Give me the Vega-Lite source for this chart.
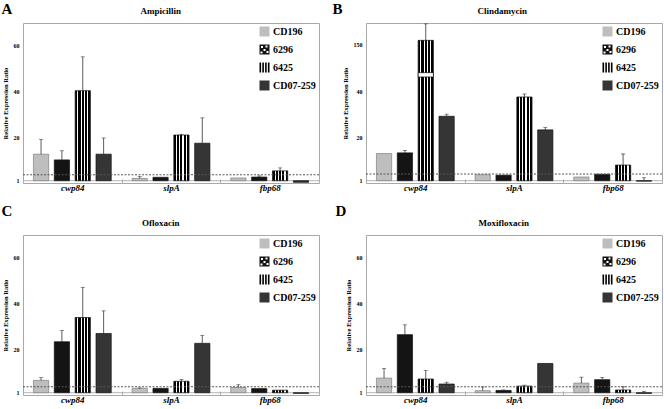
{
  "$schema": "https://vega.github.io/schema/vega-lite/v6.json",
  "background": "white",
  "padding": {"left": 1, "top": 1, "right": 2, "bottom": 2},
  "datasets": {
    "all": [
      {"p": "A", "g": "cwp84", "s": "CD196", "v": 12.6, "e": 19.1},
      {"p": "A", "g": "cwp84", "s": "6296", "v": 10.1, "e": 14.1},
      {"p": "A", "g": "cwp84", "s": "6425", "v": 40.4, "e": 55.2},
      {"p": "A", "g": "cwp84", "s": "CD07-259", "v": 12.6, "e": 19.7},
      {"p": "A", "g": "slpA", "s": "CD196", "v": 2.0, "e": 2.8},
      {"p": "A", "g": "slpA", "s": "6296", "v": 2.5, "e": 2.5},
      {"p": "A", "g": "slpA", "s": "6425", "v": 21.0, "e": 21.3},
      {"p": "A", "g": "slpA", "s": "CD07-259", "v": 17.4, "e": 28.5},
      {"p": "A", "g": "fbp68", "s": "CD196", "v": 2.2, "e": 2.2},
      {"p": "A", "g": "fbp68", "s": "6296", "v": 2.6, "e": 3.1},
      {"p": "A", "g": "fbp68", "s": "6425", "v": 5.3, "e": 6.6},
      {"p": "A", "g": "fbp68", "s": "CD07-259", "v": 0.3, "e": 0.3},
      {"p": "B", "g": "cwp84", "s": "CD196", "v": 12.8, "e": 12.8},
      {"p": "B", "g": "cwp84", "s": "6296", "v": 13.1, "e": 14.1},
      {"p": "B", "g": "cwp84", "s": "6425", "v": 160, "e": 198},
      {"p": "B", "g": "cwp84", "s": "CD07-259", "v": 29.0, "e": 29.9},
      {"p": "B", "g": "slpA", "s": "CD196", "v": 3.6, "e": 3.6},
      {"p": "B", "g": "slpA", "s": "6296", "v": 3.4, "e": 3.4},
      {"p": "B", "g": "slpA", "s": "6425", "v": 37.4, "e": 38.7},
      {"p": "B", "g": "slpA", "s": "CD07-259", "v": 23.1, "e": 24.2},
      {"p": "B", "g": "fbp68", "s": "CD196", "v": 2.6, "e": 2.6},
      {"p": "B", "g": "fbp68", "s": "6296", "v": 3.8, "e": 3.8},
      {"p": "B", "g": "fbp68", "s": "6425", "v": 7.8, "e": 12.6},
      {"p": "B", "g": "fbp68", "s": "CD07-259", "v": 0.8, "e": 2.3},
      {"p": "C", "g": "cwp84", "s": "CD196", "v": 6.4, "e": 7.6},
      {"p": "C", "g": "cwp84", "s": "6296", "v": 23.3, "e": 28.2},
      {"p": "C", "g": "cwp84", "s": "6425", "v": 33.9, "e": 47.1},
      {"p": "C", "g": "cwp84", "s": "CD07-259", "v": 26.9, "e": 36.8},
      {"p": "C", "g": "slpA", "s": "CD196", "v": 2.9, "e": 3.1},
      {"p": "C", "g": "slpA", "s": "6296", "v": 2.9, "e": 2.9},
      {"p": "C", "g": "slpA", "s": "6425", "v": 6.0, "e": 6.8},
      {"p": "C", "g": "slpA", "s": "CD07-259", "v": 22.6, "e": 26.1},
      {"p": "C", "g": "fbp68", "s": "CD196", "v": 3.3, "e": 4.5},
      {"p": "C", "g": "fbp68", "s": "6296", "v": 2.8, "e": 2.8},
      {"p": "C", "g": "fbp68", "s": "6425", "v": 2.1, "e": 2.1},
      {"p": "C", "g": "fbp68", "s": "CD07-259", "v": 0.7, "e": 0.7},
      {"p": "D", "g": "cwp84", "s": "CD196", "v": 7.4, "e": 11.6},
      {"p": "D", "g": "cwp84", "s": "6296", "v": 26.4, "e": 30.7},
      {"p": "D", "g": "cwp84", "s": "6425", "v": 7.0, "e": 10.7},
      {"p": "D", "g": "cwp84", "s": "CD07-259", "v": 4.8, "e": 5.6},
      {"p": "D", "g": "slpA", "s": "CD196", "v": 1.9, "e": 3.5},
      {"p": "D", "g": "slpA", "s": "6296", "v": 2.0, "e": 2.2},
      {"p": "D", "g": "slpA", "s": "6425", "v": 3.9, "e": 4.3},
      {"p": "D", "g": "slpA", "s": "CD07-259", "v": 13.8, "e": 13.8},
      {"p": "D", "g": "fbp68", "s": "CD196", "v": 5.2, "e": 7.8},
      {"p": "D", "g": "fbp68", "s": "6296", "v": 6.7, "e": 7.7},
      {"p": "D", "g": "fbp68", "s": "6425", "v": 2.2, "e": 3.6},
      {"p": "D", "g": "fbp68", "s": "CD07-259", "v": 0.7, "e": 1.5}
    ]
  },
  "config": {
    "font": "Liberation Serif",
    "view": {"stroke": "#a8a8a8"},
    "title": {"font": "Liberation Serif", "fontWeight": "bold", "color": "black"},
    "axis": {"labelFont": "Liberation Serif", "titleFont": "Liberation Serif", "labelColor": "black", "titleColor": "black", "labelFontWeight": "bold", "titleFontWeight": "bold", "grid": false, "domain": false, "labelOverlap": false},
    "axisY": {"labelFontSize": 6, "titleFontSize": 6.5, "ticks": false, "labelPadding": 4, "titlePadding": 5},
    "axisX": {"labelFontSize": 9, "labelFontStyle": "italic", "labelAngle": 0, "tickBand": "extent", "tickSize": -4, "tickColor": "#b0b0b0", "labelPadding": 4},
    "legend": {"orient": "top-right", "offset": 3, "padding": 0, "symbolType": "square", "symbolSize": 100, "labelFont": "Liberation Serif", "labelFontWeight": "bold", "labelFontSize": 10, "labelColor": "black", "rowPadding": 5, "labelOffset": 3, "symbolStrokeWidth": 0.6, "symbolStrokeColor": "#222222", "symbolFillColor": "#bebebe", "symbolOpacity": 1}
  },
  "resolve": {"scale": {"fill": "independent", "shape": "independent"}, "legend": {"fill": "independent", "shape": "independent"}},
  "columns": 2,
  "spacing": {"row": 10, "column": 12},
  "concat": [
    {
      "title": {"text": "A", "anchor": "start", "frame": "bounds", "fontSize": 15, "offset": -10},
      "resolve": {"scale": {"fill": "independent", "shape": "independent"}, "legend": {"fill": "independent", "shape": "independent"}},
      "vconcat": [{
        "title": {"text": "Ampicillin", "fontSize": 9, "anchor": "middle", "frame": "bounds", "offset": 7},
        "width": 296, "height": 160,
        "data": {"name": "all"},
        "layer": [
          {"mark": {"type": "rule", "color": "#a0a0a0", "strokeWidth": 0.8}, "data": {"values": [{}]}, "encoding": {"y": {"datum": 1}}},
          {"transform": [{"filter": "datum.p === 'A'"}],
           "mark": {"type": "bar", "strokeWidth": 0.7},
           "encoding": {
             "x": {"field": "g", "type": "nominal", "sort": ["cwp84", "slpA", "fbp68"], "scale": {"paddingInner": 0, "paddingOuter": 0}, "axis": {"title": null}},
             "xOffset": {"field": "s", "type": "nominal", "sort": ["CD196", "6296", "6425", "CD07-259"], "scale": {"paddingInner": 0.27, "paddingOuter": 0.5}},
             "y": {"field": "v", "type": "quantitative", "scale": {"domain": [0, 70], "nice": false, "zero": false}, "axis": {"title": "Relative Expression Ratio", "values": [1, 10, 20, 30, 40, 50, 60, 70], "labelOverlap": false}},
             "y2": {"datum": 1},
             "fill": {"condition": {"test": "datum.s === '6425'", "value": {"gradient": "linear", "x1": 0, "y1": 0, "x2": 1, "y2": 0, "stops": [{"offset": 0, "color": "#000"}, {"offset": 0.14, "color": "#000"}, {"offset": 0.14, "color": "#fff"}, {"offset": 0.215, "color": "#fff"}, {"offset": 0.215, "color": "#000"}, {"offset": 0.355, "color": "#000"}, {"offset": 0.355, "color": "#fff"}, {"offset": 0.43, "color": "#fff"}, {"offset": 0.43, "color": "#000"}, {"offset": 0.57, "color": "#000"}, {"offset": 0.57, "color": "#fff"}, {"offset": 0.645, "color": "#fff"}, {"offset": 0.645, "color": "#000"}, {"offset": 0.785, "color": "#000"}, {"offset": 0.785, "color": "#fff"}, {"offset": 0.86, "color": "#fff"}, {"offset": 0.86, "color": "#000"}, {"offset": 1, "color": "#000"}]}},
                      "field": "s", "type": "nominal", "scale": {"domain": ["CD196", "6296", "6425", "CD07-259"], "range": ["#bebebe", "#141414", "#000000", "#353535"]},
                      "legend": {"title": null}},
             "stroke": {"condition": {"test": "datum.s === 'CD196'", "value": "#808080"}, "value": "#111111"}
           }},
          {"transform": [{"filter": "datum.p === 'A'"}],
           "mark": {"type": "point", "opacity": 0, "filled": true},
           "encoding": {
             "x": {"field": "g", "type": "nominal", "sort": ["cwp84", "slpA", "fbp68"]},
             "xOffset": {"field": "s", "type": "nominal", "sort": ["CD196", "6296", "6425", "CD07-259"]},
             "y": {"field": "v", "type": "quantitative"},
             "shape": {"field": "s", "type": "nominal", "scale": {"domain": ["CD196", "6296", "6425", "CD07-259"], "range": ["square", "M-1,-1H1V1H-1Z M-0.7,-0.7V-0.3H-0.3V-0.7Z M0.2,-0.8V-0.4H0.6V-0.8Z M-0.2,-0.1V0.3H0.2V-0.1Z M0.4,0.3V0.7H0.8V0.3Z M-0.8,0.4V0.8H-0.4V0.4Z", "M-1,-1H-0.68V1H-1Z M-0.44,-1H-0.12V1H-0.44Z M0.12,-1H0.44V1H0.12Z M0.68,-1H1V1H0.68Z", "square"]}, "legend": {"title": null}}}},
          {"transform": [{"filter": "datum.p === 'A' && datum.e > datum.v"}],
           "mark": {"type": "rule", "color": "#333", "strokeWidth": 0.8},
           "encoding": {
             "x": {"field": "g", "type": "nominal", "sort": ["cwp84", "slpA", "fbp68"]},
             "xOffset": {"field": "s", "type": "nominal", "sort": ["CD196", "6296", "6425", "CD07-259"]},
             "y": {"field": "v", "type": "quantitative"}, "y2": {"field": "e"}}},
          {"transform": [{"filter": "datum.p === 'A' && datum.e > datum.v"}],
           "mark": {"type": "tick", "orient": "horizontal", "color": "#333", "thickness": 0.8, "size": 4},
           "encoding": {
             "x": {"field": "g", "type": "nominal", "sort": ["cwp84", "slpA", "fbp68"]},
             "xOffset": {"field": "s", "type": "nominal", "sort": ["CD196", "6296", "6425", "CD07-259"]},
             "y": {"field": "e", "type": "quantitative"}}},
          {"mark": {"type": "rule", "color": "#555", "strokeDash": [2, 1.5], "strokeWidth": 1}, "data": {"values": [{}]}, "encoding": {"y": {"datum": 3.6}}}
        ]
      }]
    },
    {
      "title": {"text": "B", "anchor": "start", "frame": "bounds", "fontSize": 15, "offset": -10, "dx": -9},
      "resolve": {"scale": {"fill": "independent", "shape": "independent"}, "legend": {"fill": "independent", "shape": "independent"}},
      "vconcat": [{
        "title": {"text": "Clindamycin", "fontSize": 9, "anchor": "middle", "frame": "bounds", "offset": 7},
        "width": 296, "height": 160,
        "data": {"name": "all"},
        "layer": [
          {"mark": {"type": "rule", "color": "#a0a0a0", "strokeWidth": 0.8}, "data": {"values": [{}]}, "encoding": {"y": {"datum": 1}}},
          {"transform": [{"filter": "datum.p === 'B'"}],
           "mark": {"type": "bar", "strokeWidth": 0.7},
           "encoding": {
             "x": {"field": "g", "type": "nominal", "sort": ["cwp84", "slpA", "fbp68"], "scale": {"paddingInner": 0, "paddingOuter": 0}, "axis": {"title": null}},
             "xOffset": {"field": "s", "type": "nominal", "sort": ["CD196", "6296", "6425", "CD07-259"], "scale": {"paddingInner": 0.27, "paddingOuter": 0.5}},
             "y": {"field": "v", "type": "quantitative", "scale": {"domain": [0, 45, 90, 200], "range": [160, 56.5, 47.7, 0], "nice": false, "zero": false}, "axis": {"title": "Relative Expression Ratio", "values": [1, 10, 20, 30, 40, 100, 150, 200], "labelOverlap": false}},
             "y2": {"datum": 1},
             "fill": {"condition": {"test": "datum.s === '6425'", "value": {"gradient": "linear", "x1": 0, "y1": 0, "x2": 1, "y2": 0, "stops": [{"offset": 0, "color": "#000"}, {"offset": 0.14, "color": "#000"}, {"offset": 0.14, "color": "#fff"}, {"offset": 0.215, "color": "#fff"}, {"offset": 0.215, "color": "#000"}, {"offset": 0.355, "color": "#000"}, {"offset": 0.355, "color": "#fff"}, {"offset": 0.43, "color": "#fff"}, {"offset": 0.43, "color": "#000"}, {"offset": 0.57, "color": "#000"}, {"offset": 0.57, "color": "#fff"}, {"offset": 0.645, "color": "#fff"}, {"offset": 0.645, "color": "#000"}, {"offset": 0.785, "color": "#000"}, {"offset": 0.785, "color": "#fff"}, {"offset": 0.86, "color": "#fff"}, {"offset": 0.86, "color": "#000"}, {"offset": 1, "color": "#000"}]}},
                      "field": "s", "type": "nominal", "scale": {"domain": ["CD196", "6296", "6425", "CD07-259"], "range": ["#bebebe", "#141414", "#000000", "#353535"]},
                      "legend": {"title": null}},
             "stroke": {"condition": {"test": "datum.s === 'CD196'", "value": "#808080"}, "value": "#111111"}
           }},
          {"transform": [{"filter": "datum.p === 'B'"}],
           "mark": {"type": "point", "opacity": 0, "filled": true},
           "encoding": {
             "x": {"field": "g", "type": "nominal", "sort": ["cwp84", "slpA", "fbp68"]},
             "xOffset": {"field": "s", "type": "nominal", "sort": ["CD196", "6296", "6425", "CD07-259"]},
             "y": {"field": "v", "type": "quantitative"},
             "shape": {"field": "s", "type": "nominal", "scale": {"domain": ["CD196", "6296", "6425", "CD07-259"], "range": ["square", "M-1,-1H1V1H-1Z M-0.7,-0.7V-0.3H-0.3V-0.7Z M0.2,-0.8V-0.4H0.6V-0.8Z M-0.2,-0.1V0.3H0.2V-0.1Z M0.4,0.3V0.7H0.8V0.3Z M-0.8,0.4V0.8H-0.4V0.4Z", "M-1,-1H-0.68V1H-1Z M-0.44,-1H-0.12V1H-0.44Z M0.12,-1H0.44V1H0.12Z M0.68,-1H1V1H0.68Z", "square"]}, "legend": {"title": null}}}},
          {"mark": {"type": "bar", "fill": "white", "stroke": "#111", "strokeWidth": 0.7},
           "data": {"values": [{}]},
           "encoding": {
             "x": {"datum": "cwp84"},
             "xOffset": {"datum": "6425"},
             "y": {"datum": 58}, "y2": {"datum": 80}}},
          {"transform": [{"filter": "datum.p === 'B' && datum.e > datum.v"}],
           "mark": {"type": "rule", "color": "#333", "strokeWidth": 0.8},
           "encoding": {
             "x": {"field": "g", "type": "nominal", "sort": ["cwp84", "slpA", "fbp68"]},
             "xOffset": {"field": "s", "type": "nominal", "sort": ["CD196", "6296", "6425", "CD07-259"]},
             "y": {"field": "v", "type": "quantitative"}, "y2": {"field": "e"}}},
          {"transform": [{"filter": "datum.p === 'B' && datum.e > datum.v"}],
           "mark": {"type": "tick", "orient": "horizontal", "color": "#333", "thickness": 0.8, "size": 4},
           "encoding": {
             "x": {"field": "g", "type": "nominal", "sort": ["cwp84", "slpA", "fbp68"]},
             "xOffset": {"field": "s", "type": "nominal", "sort": ["CD196", "6296", "6425", "CD07-259"]},
             "y": {"field": "e", "type": "quantitative"}}},
          {"mark": {"type": "rule", "color": "#555", "strokeDash": [2, 1.5], "strokeWidth": 1}, "data": {"values": [{}]}, "encoding": {"y": {"datum": 3.9}}}
        ]
      }]
    },
    {
      "title": {"text": "C", "anchor": "start", "frame": "bounds", "fontSize": 15, "offset": 0},
      "resolve": {"scale": {"fill": "independent", "shape": "independent"}, "legend": {"fill": "independent", "shape": "independent"}},
      "vconcat": [{
        "title": {"text": "Ofloxacin", "fontSize": 9, "anchor": "middle", "frame": "bounds", "offset": 7},
        "width": 296, "height": 160,
        "data": {"name": "all"},
        "layer": [
          {"mark": {"type": "rule", "color": "#a0a0a0", "strokeWidth": 0.8}, "data": {"values": [{}]}, "encoding": {"y": {"datum": 1}}},
          {"transform": [{"filter": "datum.p === 'C'"}],
           "mark": {"type": "bar", "strokeWidth": 0.7},
           "encoding": {
             "x": {"field": "g", "type": "nominal", "sort": ["cwp84", "slpA", "fbp68"], "scale": {"paddingInner": 0, "paddingOuter": 0}, "axis": {"title": null}},
             "xOffset": {"field": "s", "type": "nominal", "sort": ["CD196", "6296", "6425", "CD07-259"], "scale": {"paddingInner": 0.27, "paddingOuter": 0.5}},
             "y": {"field": "v", "type": "quantitative", "scale": {"domain": [0, 70], "nice": false, "zero": false}, "axis": {"title": "Relative Expression Ratio", "values": [1, 10, 20, 30, 40, 50, 60, 70], "labelOverlap": false}},
             "y2": {"datum": 1},
             "fill": {"condition": {"test": "datum.s === '6425'", "value": {"gradient": "linear", "x1": 0, "y1": 0, "x2": 1, "y2": 0, "stops": [{"offset": 0, "color": "#000"}, {"offset": 0.14, "color": "#000"}, {"offset": 0.14, "color": "#fff"}, {"offset": 0.215, "color": "#fff"}, {"offset": 0.215, "color": "#000"}, {"offset": 0.355, "color": "#000"}, {"offset": 0.355, "color": "#fff"}, {"offset": 0.43, "color": "#fff"}, {"offset": 0.43, "color": "#000"}, {"offset": 0.57, "color": "#000"}, {"offset": 0.57, "color": "#fff"}, {"offset": 0.645, "color": "#fff"}, {"offset": 0.645, "color": "#000"}, {"offset": 0.785, "color": "#000"}, {"offset": 0.785, "color": "#fff"}, {"offset": 0.86, "color": "#fff"}, {"offset": 0.86, "color": "#000"}, {"offset": 1, "color": "#000"}]}},
                      "field": "s", "type": "nominal", "scale": {"domain": ["CD196", "6296", "6425", "CD07-259"], "range": ["#bebebe", "#141414", "#000000", "#353535"]},
                      "legend": {"title": null}},
             "stroke": {"condition": {"test": "datum.s === 'CD196'", "value": "#808080"}, "value": "#111111"}
           }},
          {"transform": [{"filter": "datum.p === 'C'"}],
           "mark": {"type": "point", "opacity": 0, "filled": true},
           "encoding": {
             "x": {"field": "g", "type": "nominal", "sort": ["cwp84", "slpA", "fbp68"]},
             "xOffset": {"field": "s", "type": "nominal", "sort": ["CD196", "6296", "6425", "CD07-259"]},
             "y": {"field": "v", "type": "quantitative"},
             "shape": {"field": "s", "type": "nominal", "scale": {"domain": ["CD196", "6296", "6425", "CD07-259"], "range": ["square", "M-1,-1H1V1H-1Z M-0.7,-0.7V-0.3H-0.3V-0.7Z M0.2,-0.8V-0.4H0.6V-0.8Z M-0.2,-0.1V0.3H0.2V-0.1Z M0.4,0.3V0.7H0.8V0.3Z M-0.8,0.4V0.8H-0.4V0.4Z", "M-1,-1H-0.68V1H-1Z M-0.44,-1H-0.12V1H-0.44Z M0.12,-1H0.44V1H0.12Z M0.68,-1H1V1H0.68Z", "square"]}, "legend": {"title": null}}}},
          {"transform": [{"filter": "datum.p === 'C' && datum.e > datum.v"}],
           "mark": {"type": "rule", "color": "#333", "strokeWidth": 0.8},
           "encoding": {
             "x": {"field": "g", "type": "nominal", "sort": ["cwp84", "slpA", "fbp68"]},
             "xOffset": {"field": "s", "type": "nominal", "sort": ["CD196", "6296", "6425", "CD07-259"]},
             "y": {"field": "v", "type": "quantitative"}, "y2": {"field": "e"}}},
          {"transform": [{"filter": "datum.p === 'C' && datum.e > datum.v"}],
           "mark": {"type": "tick", "orient": "horizontal", "color": "#333", "thickness": 0.8, "size": 4},
           "encoding": {
             "x": {"field": "g", "type": "nominal", "sort": ["cwp84", "slpA", "fbp68"]},
             "xOffset": {"field": "s", "type": "nominal", "sort": ["CD196", "6296", "6425", "CD07-259"]},
             "y": {"field": "e", "type": "quantitative"}}},
          {"mark": {"type": "rule", "color": "#555", "strokeDash": [2, 1.5], "strokeWidth": 1}, "data": {"values": [{}]}, "encoding": {"y": {"datum": 3.6}}}
        ]
      }]
    },
    {
      "title": {"text": "D", "anchor": "start", "frame": "bounds", "fontSize": 15, "offset": 0, "dx": -9},
      "resolve": {"scale": {"fill": "independent", "shape": "independent"}, "legend": {"fill": "independent", "shape": "independent"}},
      "vconcat": [{
        "title": {"text": "Moxifloxacin", "fontSize": 9, "anchor": "middle", "frame": "bounds", "offset": 7},
        "width": 296, "height": 160,
        "data": {"name": "all"},
        "layer": [
          {"mark": {"type": "rule", "color": "#a0a0a0", "strokeWidth": 0.8}, "data": {"values": [{}]}, "encoding": {"y": {"datum": 1}}},
          {"transform": [{"filter": "datum.p === 'D'"}],
           "mark": {"type": "bar", "strokeWidth": 0.7},
           "encoding": {
             "x": {"field": "g", "type": "nominal", "sort": ["cwp84", "slpA", "fbp68"], "scale": {"paddingInner": 0, "paddingOuter": 0}, "axis": {"title": null}},
             "xOffset": {"field": "s", "type": "nominal", "sort": ["CD196", "6296", "6425", "CD07-259"], "scale": {"paddingInner": 0.27, "paddingOuter": 0.5}},
             "y": {"field": "v", "type": "quantitative", "scale": {"domain": [0, 70], "nice": false, "zero": false}, "axis": {"title": "Relative Expression Ratio", "values": [1, 10, 20, 30, 40, 50, 60, 70], "labelOverlap": false}},
             "y2": {"datum": 1},
             "fill": {"condition": {"test": "datum.s === '6425'", "value": {"gradient": "linear", "x1": 0, "y1": 0, "x2": 1, "y2": 0, "stops": [{"offset": 0, "color": "#000"}, {"offset": 0.14, "color": "#000"}, {"offset": 0.14, "color": "#fff"}, {"offset": 0.215, "color": "#fff"}, {"offset": 0.215, "color": "#000"}, {"offset": 0.355, "color": "#000"}, {"offset": 0.355, "color": "#fff"}, {"offset": 0.43, "color": "#fff"}, {"offset": 0.43, "color": "#000"}, {"offset": 0.57, "color": "#000"}, {"offset": 0.57, "color": "#fff"}, {"offset": 0.645, "color": "#fff"}, {"offset": 0.645, "color": "#000"}, {"offset": 0.785, "color": "#000"}, {"offset": 0.785, "color": "#fff"}, {"offset": 0.86, "color": "#fff"}, {"offset": 0.86, "color": "#000"}, {"offset": 1, "color": "#000"}]}},
                      "field": "s", "type": "nominal", "scale": {"domain": ["CD196", "6296", "6425", "CD07-259"], "range": ["#bebebe", "#141414", "#000000", "#353535"]},
                      "legend": {"title": null}},
             "stroke": {"condition": {"test": "datum.s === 'CD196'", "value": "#808080"}, "value": "#111111"}
           }},
          {"transform": [{"filter": "datum.p === 'D'"}],
           "mark": {"type": "point", "opacity": 0, "filled": true},
           "encoding": {
             "x": {"field": "g", "type": "nominal", "sort": ["cwp84", "slpA", "fbp68"]},
             "xOffset": {"field": "s", "type": "nominal", "sort": ["CD196", "6296", "6425", "CD07-259"]},
             "y": {"field": "v", "type": "quantitative"},
             "shape": {"field": "s", "type": "nominal", "scale": {"domain": ["CD196", "6296", "6425", "CD07-259"], "range": ["square", "M-1,-1H1V1H-1Z M-0.7,-0.7V-0.3H-0.3V-0.7Z M0.2,-0.8V-0.4H0.6V-0.8Z M-0.2,-0.1V0.3H0.2V-0.1Z M0.4,0.3V0.7H0.8V0.3Z M-0.8,0.4V0.8H-0.4V0.4Z", "M-1,-1H-0.68V1H-1Z M-0.44,-1H-0.12V1H-0.44Z M0.12,-1H0.44V1H0.12Z M0.68,-1H1V1H0.68Z", "square"]}, "legend": {"title": null}}}},
          {"transform": [{"filter": "datum.p === 'D' && datum.e > datum.v"}],
           "mark": {"type": "rule", "color": "#333", "strokeWidth": 0.8},
           "encoding": {
             "x": {"field": "g", "type": "nominal", "sort": ["cwp84", "slpA", "fbp68"]},
             "xOffset": {"field": "s", "type": "nominal", "sort": ["CD196", "6296", "6425", "CD07-259"]},
             "y": {"field": "v", "type": "quantitative"}, "y2": {"field": "e"}}},
          {"transform": [{"filter": "datum.p === 'D' && datum.e > datum.v"}],
           "mark": {"type": "tick", "orient": "horizontal", "color": "#333", "thickness": 0.8, "size": 4},
           "encoding": {
             "x": {"field": "g", "type": "nominal", "sort": ["cwp84", "slpA", "fbp68"]},
             "xOffset": {"field": "s", "type": "nominal", "sort": ["CD196", "6296", "6425", "CD07-259"]},
             "y": {"field": "e", "type": "quantitative"}}},
          {"mark": {"type": "rule", "color": "#555", "strokeDash": [2, 1.5], "strokeWidth": 1}, "data": {"values": [{}]}, "encoding": {"y": {"datum": 3.6}}}
        ]
      }]
    }
  ]
}
